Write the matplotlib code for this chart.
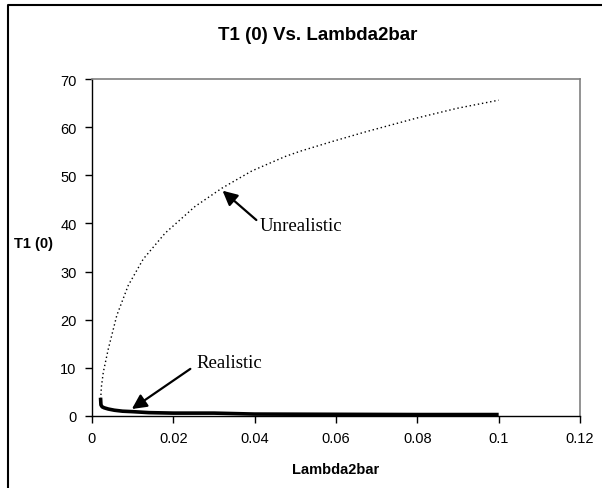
import matplotlib
matplotlib.use('Agg')
import matplotlib.pyplot as plt
from matplotlib.lines import Line2D

plt.rcParams['font.family'] = ['Liberation Sans', 'DejaVu Sans']

# Unrealistic branch (dotted)
unreal_x = [0.00214, 0.0023, 0.00278, 0.0040, 0.0061, 0.0089, 0.0126, 0.0180,
            0.0253, 0.0319, 0.0393, 0.0475, 0.0512, 0.0590, 0.0676, 0.0799,
            0.0897, 0.1000]
unreal_y = [3.5, 6.0, 9.1, 13.9, 20.9, 27.1, 32.6, 38.0,
            43.5, 47.3, 50.9, 53.9, 55.0, 57.0, 59.1, 61.9,
            63.9, 65.6]

# Realistic branch (solid, thick)
real_x = [0.0021, 0.0022, 0.0025, 0.003, 0.004, 0.0055, 0.0075, 0.010,
          0.014, 0.020, 0.030, 0.040, 0.060, 0.080, 0.100]
real_y = [3.8, 2.3, 1.9, 1.7, 1.45, 1.2, 1.0, 0.9,
          0.7, 0.6, 0.6, 0.4, 0.35, 0.3, 0.3]

x_ticks = [0, 0.02, 0.04, 0.06, 0.08, 0.1, 0.12]
x_labels = ['0', '0.02', '0.04', '0.06', '0.08', '0.1', '0.12']
y_ticks = [0, 10, 20, 30, 40, 50, 60, 70]

fig = plt.figure(figsize=(6.02, 4.89), dpi=100)
ax = fig.add_axes([92/602, 1 - 417/489, 488/602, 337/489])

ax.plot(unreal_x, unreal_y, color='black', lw=1.0, linestyle=(0, (1, 2)))
ax.plot(real_x, real_y, color='black', lw=2.6, solid_capstyle='butt')

ax.set_xlim(0, 0.12)
ax.set_ylim(0, 70)
ax.set_xticks(x_ticks)
ax.set_xticklabels(x_labels)
ax.set_yticks(y_ticks)
ax.tick_params(direction='out', length=5, width=1, labelsize=10.5, pad=6)

for s in ['top', 'right']:
    ax.spines[s].set_color('#808080')
    ax.spines[s].set_linewidth(1.2)
for s in ['left', 'bottom']:
    ax.spines[s].set_color('black')
    ax.spines[s].set_linewidth(1.0)

ax.set_xlabel('Lambda2bar', fontsize=10.5, fontweight='bold', labelpad=12)
fig.text(34/602, 1 - 244/489, 'T1 (0)', fontsize=10.5, fontweight='bold',
         ha='center', va='center')
fig.text(318/602, 1 - 36/489, 'T1 (0) Vs. Lambda2bar', fontsize=13.5,
         fontweight='bold', ha='center', va='center')

arrow = dict(arrowstyle='-|>', mutation_scale=22, lw=1.6, color='black',
             shrinkA=0, shrinkB=0)
ax.annotate('Unrealistic', xy=(0.0321, 46.8), xytext=(0.0411, 39.5),
            fontsize=13.5, family='Liberation Serif', ha='left', va='center',
            arrowprops=dict(arrow, relpos=(0, 0.7)))
ax.annotate('Realistic', xy=(0.0098, 1.45), xytext=(0.0258, 11.2),
            fontsize=13.5, family='Liberation Serif', ha='left', va='center',
            arrowprops=dict(arrow, relpos=(-0.1, 0.1)))

# outer chart-area border
fig.add_artist(Line2D([8/602, 8/602, 1], [0, 1 - 6/489, 1 - 6/489],
                      transform=fig.transFigure, color='black', lw=1.5))

fig.savefig('out.png', dpi=100)
